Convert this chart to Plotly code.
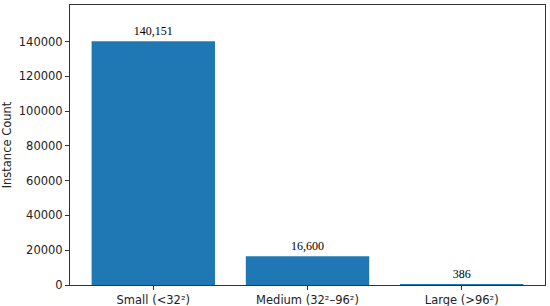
import plotly.graph_objects as go

categories = ["Small (<32²)", "Medium (32²–96²)", "Large (>96²)"]
counts = [140151, 16600, 386]
y_ticks = [0, 20000, 40000, 60000, 80000, 100000, 120000, 140000]

fig = go.Figure(go.Bar(
    x=list(range(len(categories))),
    y=counts,
    width=0.8,
    marker=dict(color="#1f77b4", line=dict(width=0)),
    text=[f"{v:,}" for v in counts],
    textposition="outside",
    textfont=dict(family="Liberation Serif", size=12, color="black"),
    cliponaxis=False,
))

axis_common = dict(
    showline=True, linecolor="#333333", linewidth=1, mirror=True,
    ticks="outside", ticklen=4, tickcolor="#333333",
    showgrid=False, zeroline=False, automargin=False,
    tickfont=dict(family="DejaVu Sans", size=11.5, color="#222222"),
)

fig.update_layout(
    width=550, height=306,
    margin=dict(l=70, r=5, t=5, b=21),
    plot_bgcolor="white", paper_bgcolor="white",
    showlegend=False,
    bargap=0.2,
    xaxis=dict(
        **axis_common,
        range=[-0.54, 2.54],
        tickmode="array",
        tickvals=list(range(len(categories))),
        ticktext=categories,
    ),
    yaxis=dict(
        **axis_common,
        range=[0, 161000],
        tickmode="array",
        tickvals=y_ticks,
        ticktext=[str(t) for t in y_ticks],
        title=dict(text="Instance Count", font=dict(family="DejaVu Sans", size=11.5, color="#222222"), standoff=6),
    ),
)

fig.write_html("out.html")
